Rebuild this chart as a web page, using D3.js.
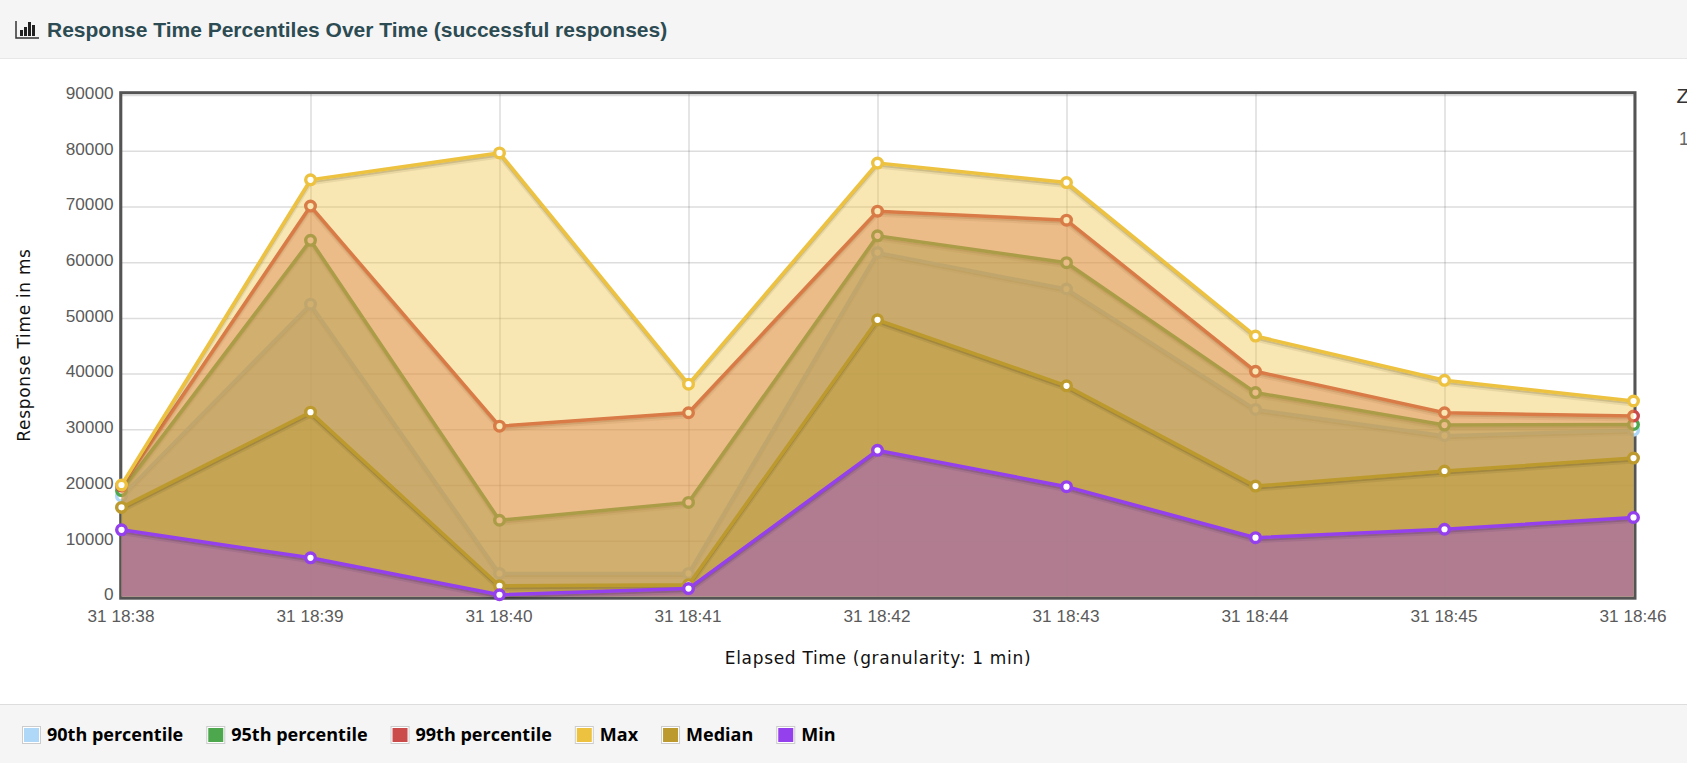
<!DOCTYPE html>
<html>
<head>
<meta charset="utf-8">
<title>Response Time Percentiles Over Time</title>
<script src="https://cdn.jsdelivr.net/npm/d3@7"></script>
<style>
html,body{margin:0;padding:0;background:#fff;overflow:hidden;}
svg{display:block;}
.tick text{font-family:"Liberation Sans",Arial,sans-serif;font-size:17.2px;fill:#5a5a5a;}
.axisLabel{font-family:"DejaVu Sans",Verdana,sans-serif;font-size:17px;letter-spacing:0.68px;fill:#111;}
</style>
</head>
<body>
<svg id="chart" width="1687" height="763"></svg>
<script>
var times = ["31 18:38","31 18:39","31 18:40","31 18:41","31 18:42","31 18:43","31 18:44","31 18:45","31 18:46"];
var yTicks = [0,10000,20000,30000,40000,50000,60000,70000,80000,90000];

var p90 = [18000,52470,4120,4120,61720,55190,33570,28850,29850];
var p95 = [19000,63930,13670,16880,64740,59910,36590,30760,30860];
var p99 = [19800,70070,30560,32970,69160,67550,40410,32970,32370];
var maxValues = [20000,74790,79620,38100,77800,74300,46740,38800,35080];
var median = [15980,33070,1900,2100,49660,37800,19800,22510,24830];
var minValues = [11960,6930,300,1400,26230,19700,10550,12060,14170];

var seriesNames = ["90th percentile","95th percentile","99th percentile","Max","Median","Min"];
var seriesValues = [p90,p95,p99,maxValues,median,minValues];
var seriesColors = ["#afd8f8","#4da74d","#cb4b4b","#edc240","#bc9a2e","#9440ed"];

var W = 1687, H = 763;
var plot = {left:121.5, right:1633.5, top:93, bottom:596.4, y90k:95.1};
var svg = d3.select("#chart");

// header and footer bands
svg.append("rect").attr("width",W).attr("height",58).attr("fill","#f5f5f5");
svg.append("line").attr("x1",0).attr("x2",W).attr("y1",58.5).attr("y2",58.5).attr("stroke","#e7e7e7");
svg.append("rect").attr("y",705).attr("width",W).attr("height",H-705).attr("fill","#f5f5f5");
svg.append("line").attr("x1",0).attr("x2",W).attr("y1",704.5).attr("y2",704.5).attr("stroke","#ddd");

// bar chart icon next to the title
var icon = svg.append("g").attr("transform","translate(16,21)").attr("fill","#222");
icon.append("path").attr("d","M0,0V17H23").attr("fill","none").attr("stroke","#333").attr("stroke-width",1.5);
[[4,9],[8,6],[12,1],[16,4]].forEach(function(b){
	icon.append("rect").attr("x",b[0]).attr("y",b[1]).attr("width",3).attr("height",15-b[1]);
});
svg.append("text").attr("x",47).attr("y",36.5)
	.attr("font-family","'Liberation Sans',Arial,sans-serif").attr("font-weight","bold")
	.attr("font-size",21).attr("fill","#2c4b52")
	.text("Response Time Percentiles Over Time (successful responses)");

var x = d3.scalePoint().domain(times).range([plot.left,plot.right]);
var y = d3.scaleLinear().domain([0,90000]).range([plot.bottom,plot.y90k]);

// grid and axes go first, the series are painted over them
var xAxis = svg.append("g").attr("transform","translate(0,"+plot.bottom+")")
	.call(d3.axisBottom(x).tickSize(-(plot.bottom-plot.top)).tickPadding(13.6));
var yAxis = svg.append("g").attr("transform","translate("+plot.left+",0)")
	.call(d3.axisLeft(y).tickValues(yTicks).tickFormat(d3.format("d"))
		.tickSize(-(plot.right-plot.left)).tickPadding(8));
[xAxis,yAxis].forEach(function(a){
	a.select(".domain").remove();
	a.selectAll(".tick line").attr("stroke","rgba(84,84,84,0.2)").attr("stroke-width",1.5);
});
xAxis.selectAll(".tick text").attr("dx",-1);
yAxis.selectAll(".tick text").attr("y",-2.2);
svg.append("rect")
	.attr("x",120.7).attr("y",92.7)
	.attr("width",1635-120.7).attr("height",598.2-92.7)
	.attr("fill","none").attr("stroke","#545454").attr("stroke-width",3);

var line = d3.line().x(function(d,i){return x(times[i])}).y(function(d){return y(d)});
var area = d3.area().x(function(d,i){return x(times[i])}).y0(y(0)).y1(function(d){return y(d)});

seriesValues.forEach(function(values,s){
	var color = seriesColors[s];
	var g = svg.append("g").attr("class","series");
	// soft shadow under the line
	g.append("path").attr("d",line(values)).attr("fill","none")
		.attr("stroke","rgba(0,0,0,0.1)").attr("stroke-width",4).attr("transform","translate(0,3.5)");
	g.append("path").attr("d",line(values)).attr("fill","none")
		.attr("stroke","rgba(0,0,0,0.2)").attr("stroke-width",2).attr("transform","translate(0,2.5)");
	g.append("path").attr("d",area(values)).attr("fill",color).attr("fill-opacity",0.4);
	g.append("path").attr("d",line(values)).attr("fill","none").attr("stroke",color).attr("stroke-width",3.5);
	g.selectAll("circle").data(values).enter().append("circle")
		.attr("cx",function(d,i){return x(times[i])})
		.attr("cy",function(d){return y(d)})
		.attr("r",4.8)
		.attr("fill","#fff").attr("stroke",color).attr("stroke-width",3.4);
});

svg.append("text").attr("class","axisLabel").attr("text-anchor","middle")
	.attr("x",878).attr("y",664)
	.text("Elapsed Time (granularity: 1 min)");
svg.append("text").attr("class","axisLabel").attr("text-anchor","middle")
	.attr("transform","translate(30,345) rotate(-90)")
	.text("Response Time in ms");

// cropped pieces of the side panel at the window edge
svg.append("text").attr("x",1676.5).attr("y",103)
	.attr("font-family","'Liberation Sans',Arial,sans-serif").attr("font-size",20.8).attr("fill","#333").text("Z");
svg.append("text").attr("x",1679).attr("y",145)
	.attr("font-family","'Liberation Sans',Arial,sans-serif").attr("font-size",17.5).attr("fill","#666").text("1");

// legend
var lx = 22;
seriesNames.forEach(function(name,i){
	var g = svg.append("g").attr("transform","translate("+lx+",726)");
	g.append("rect").attr("x",0.5).attr("y",0.5).attr("width",18).attr("height",17).attr("fill","#fff").attr("stroke","#ccc");
	g.append("rect").attr("x",2).attr("y",2).attr("width",15).attr("height",14).attr("fill",seriesColors[i]);
	var t = g.append("text").attr("x",25).attr("y",15)
		.attr("font-family","'Open Sans',sans-serif").attr("font-weight","bold")
		.attr("font-size",18).attr("fill","#000").text(name);
	lx += 25 + t.node().getComputedTextLength() + 23;
});
</script>
</body>
</html>
